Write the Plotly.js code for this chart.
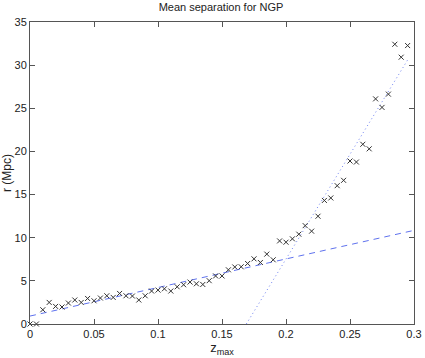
<!DOCTYPE html>
<html>
<head>
<meta charset="utf-8">
<script src="https://cdn.plot.ly/plotly-3.0.1.min.js"></script>
<style>
  html, body { margin: 0; padding: 0; background: #fff; }
  #chart { width: 425px; height: 358px; }
</style>
</head>
<body>
<div id="chart"></div>
<script>
// measured mean separation r (Mpc) against z_max
const zMax = [
    0, 0.005, 0.01, 0.015, 0.02, 0.025, 0.03, 0.035, 0.04, 0.045,
    0.05, 0.055, 0.06, 0.065, 0.07, 0.075, 0.08, 0.085, 0.09, 0.095,
    0.1, 0.105, 0.11, 0.115, 0.12, 0.125, 0.13, 0.135, 0.14, 0.145,
    0.15, 0.155, 0.16, 0.165, 0.17, 0.175, 0.18, 0.185, 0.19, 0.195,
    0.2, 0.205, 0.21, 0.215, 0.22, 0.225, 0.23, 0.235, 0.24, 0.245,
    0.25, 0.255, 0.26, 0.265, 0.27, 0.275, 0.28, 0.285, 0.29, 0.295
];
const sepR = [
    0, 0, 1.65, 2.50, 2.04, 1.97, 2.43, 2.78, 2.50, 2.96,
    2.69, 3.01, 3.27, 3.08, 3.54, 3.27, 3.24, 2.78, 3.27, 3.82,
    3.93, 4.08, 3.82, 4.31, 4.55, 4.86, 4.66, 4.58, 5.02, 5.57,
    5.57, 6.28, 6.61, 6.63, 7.01, 7.55, 7.13, 8.10, 7.44, 9.63,
    9.48, 9.87, 10.41, 11.40, 10.76, 12.49, 14.32, 14.61, 16.03, 16.65,
    18.89, 18.77, 20.83, 20.30, 26.09, 25.10, 26.64, 32.42, 30.92, 32.27
];

// low-z linear fit (dashed) and high-z linear fit (dotted)
const fitLowX = [0, 0.3];
const fitLowY = [0.92, 10.85];
const fitHighX = [0.169, 0.295];
const fitHighY = [0, 30.6];

const xTicks = [0, 0.05, 0.1, 0.15, 0.2, 0.25, 0.3];
const yTicks = [0, 5, 10, 15, 20, 25, 30, 35];

const axisColor = '#555';

const traces = [
    {
        x: fitLowX, y: fitLowY,
        type: 'scatter', mode: 'lines',
        line: { color: '#5f72ee', width: 1, dash: '6px,5px' },
        hoverinfo: 'skip',
    },
    {
        x: fitHighX, y: fitHighY,
        type: 'scatter', mode: 'lines',
        line: { color: '#6f82f2', width: 1, dash: '1px,3px' },
        hoverinfo: 'skip',
    },
    {
        x: zMax, y: sepR,
        type: 'scatter', mode: 'markers',
        marker: { symbol: 'x-thin', size: 5, line: { color: '#333', width: 1 } },
        cliponaxis: false,
    },
];

const axisBase = {
    showgrid: false,
    zeroline: false,
    showline: true,
    linecolor: axisColor,
    linewidth: 1,
    mirror: 'ticks',
    ticks: 'inside',
    ticklen: 5,
    tickcolor: axisColor,
    tickfont: { size: 11, color: '#222' },
};

const layout = {
    width: 425,
    height: 358,
    paper_bgcolor: '#fff',
    plot_bgcolor: '#fff',
    font: { family: 'Liberation Sans, Arial, sans-serif', color: '#222', size: 11 },
    title: { text: 'Mean separation for NGP', font: { size: 11 }, x: 0.52, y: 0.99, yanchor: 'top' },
    margin: { l: 30, r: 11, t: 22, b: 34 },
    showlegend: false,
    xaxis: {
        ...axisBase,
        range: [0, 0.3],
        tickvals: xTicks,
        ticktext: xTicks.map(String),
        title: { text: 'z<sub>max</sub>', font: { size: 13 }, standoff: 0 },
    },
    yaxis: {
        ...axisBase,
        range: [0, 35],
        tickvals: yTicks,
        title: { text: 'r (Mpc)', font: { size: 12 }, standoff: 8 },
    },
};

Plotly.newPlot('chart', traces, layout, { displayModeBar: false, staticPlot: true });
</script>
</body>
</html>
